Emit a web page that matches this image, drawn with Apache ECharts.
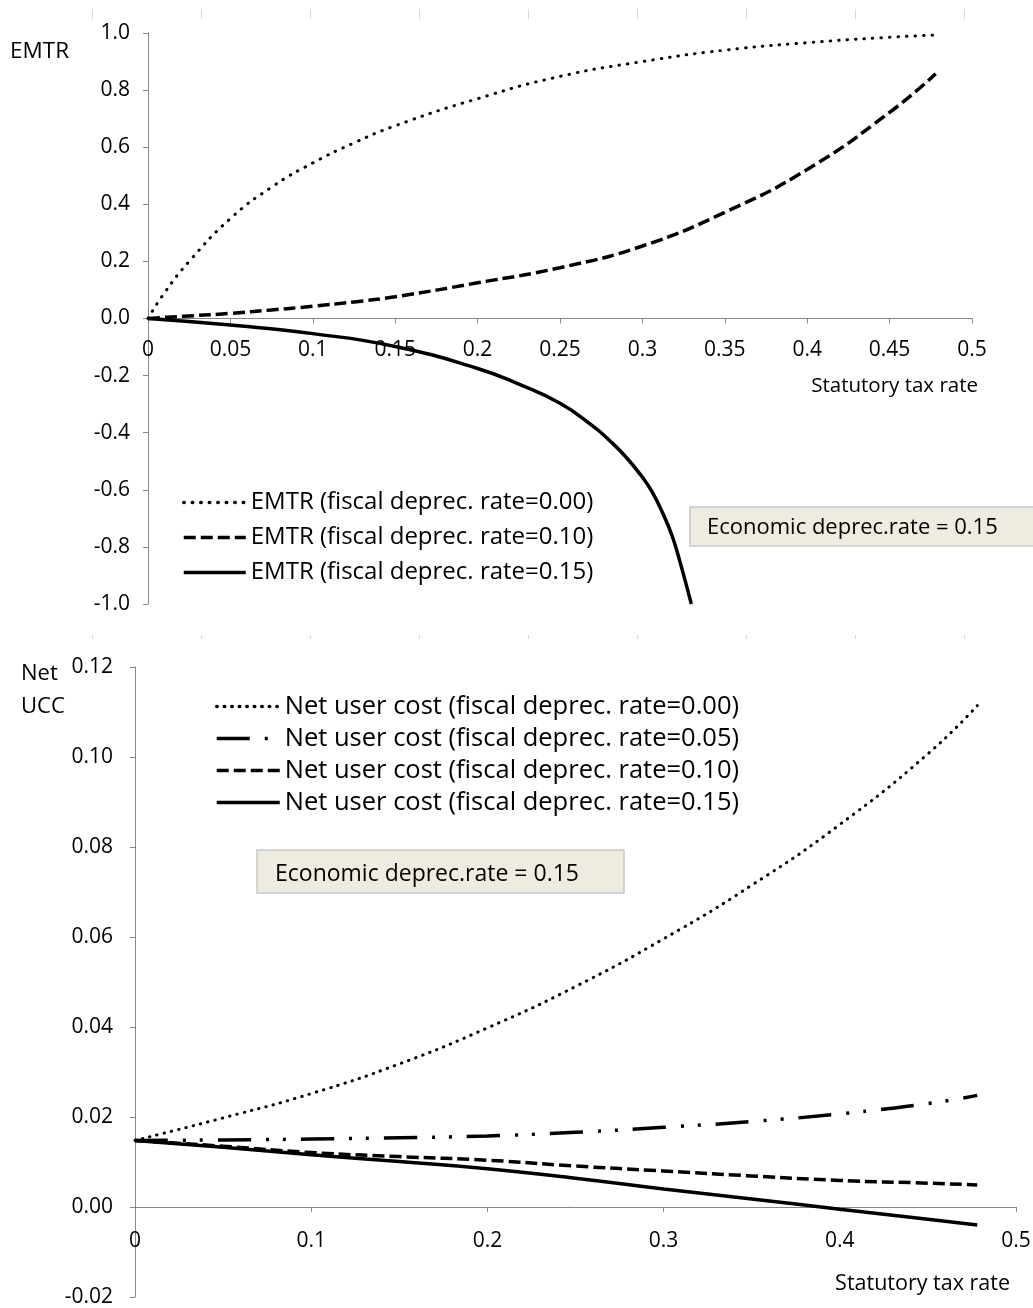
<!DOCTYPE html>
<html>
<head>
<meta charset="utf-8">
<title>EMTR and net user cost</title>
<script src="https://cdn.jsdelivr.net/npm/echarts@6/dist/echarts.min.js"></script>
<style>
    html, body { margin: 0; padding: 0; background: #fff; }
    #chart { width: 1033px; height: 1308px; }
</style>
</head>
<body>
<div id="chart"></div>
<script>
    // ---- values ----
    // top panel: EMTR vs statutory tax rate
    var taxRate = [0, 0.01, 0.025, 0.05, 0.075, 0.1, 0.125, 0.15, 0.2, 0.25, 0.3, 0.35, 0.4, 0.45, 0.478];
    var emtr000 = [0, 0.09, 0.2, 0.35, 0.46, 0.545, 0.615, 0.675, 0.77, 0.848, 0.9, 0.94, 0.966, 0.985, 0.993];
    var emtr010 = [0, 0.004, 0.009, 0.018, 0.03, 0.043, 0.058, 0.076, 0.125, 0.178, 0.254, 0.372, 0.522, 0.722, 0.857];
    // the 0.15 curve runs off the bottom of the axis, so it has its own x values
    var taxRateSteep = [0, 0.05, 0.1, 0.15, 0.2, 0.225, 0.25, 0.27, 0.28, 0.29, 0.3, 0.306, 0.3125, 0.318, 0.3226, 0.3297];
    var emtr015 = [0, -0.023, -0.053, -0.098, -0.175, -0.23, -0.297, -0.377, -0.427, -0.485, -0.556, -0.608, -0.684, -0.761, -0.848, -1.0];

    // bottom panel: net user cost of capital vs statutory tax rate
    var taxRateUcc = [0, 0.05, 0.1, 0.15, 0.2, 0.25, 0.3, 0.35, 0.4, 0.45, 0.478];
    var ucc000 = [0.0148, 0.0198, 0.0252, 0.0318, 0.0398, 0.0490, 0.0596, 0.0715, 0.0850, 0.1007, 0.1114];
    var ucc005 = [0.0148, 0.0149, 0.0151, 0.0154, 0.0158, 0.0166, 0.0177, 0.0190, 0.0207, 0.0230, 0.0248];
    var ucc010 = [0.0148, 0.0135, 0.0121, 0.0112, 0.0104, 0.0091, 0.0080, 0.0069, 0.0059, 0.0053, 0.0049];
    var ucc015 = [0.0148, 0.0133, 0.0116, 0.0101, 0.0085, 0.0064, 0.0040, 0.0018, -0.0005, -0.0027, -0.0040];

    // axis ticks: min, max, step
    var emtrTicks = [-1, 1, 0.2];
    var rateTicksTop = [0, 0.5, 0.05];
    var uccTicks = [-0.02, 0.12, 0.02];
    var rateTicksBottom = [0, 0.5, 0.1];

    var emtrNames = [
        'EMTR (fiscal deprec. rate=0.00)',
        'EMTR (fiscal deprec. rate=0.10)',
        'EMTR (fiscal deprec. rate=0.15)'
    ];
    var uccNames = [
        'Net user cost (fiscal deprec. rate=0.00)',
        'Net user cost (fiscal deprec. rate=0.05)',
        'Net user cost (fiscal deprec. rate=0.10)',
        'Net user cost (fiscal deprec. rate=0.15)'
    ];

    var FONT = '"Open Sans", sans-serif';
    var AXIS = '#868686';

    // grid boxes (px)
    var topGrid = { left: 148, top: 33, width: 824, height: 571 };
    var botGrid = { left: 135, top: 667, width: 881, height: 630 };

    function pairs(xs, ys) {
        return xs.map(function (x, i) { return [x, ys[i]]; });
    }

    // pixels from the bottom of a grid up to value 0
    function zeroLift(g, ticks) {
        return g.height * (0 - ticks[0]) / (ticks[1] - ticks[0]);
    }

    function valueAxis(grid, ticks, digits, margin, extra) {
        var ax = {
            type: 'value',
            gridIndex: grid,
            min: ticks[0],
            max: ticks[1],
            interval: ticks[2],
            axisLine: { show: true, onZero: false, lineStyle: { color: AXIS, width: 1 } },
            axisTick: { show: true, length: 5, lineStyle: { color: AXIS } },
            splitLine: { show: false },
            axisLabel: {
                color: '#000',
                fontSize: 21,
                fontFamily: FONT,
                margin: margin,
                formatter: function (v) { return digits == null ? String(+v.toFixed(2)) : v.toFixed(digits); }
            }
        };
        for (var k in extra) ax[k] = extra[k];
        return ax;
    }

    function line(name, x, y, xi, style) {
        return {
            name: name,
            type: 'line',
            xAxisIndex: xi,
            yAxisIndex: xi,
            data: pairs(x, y),
            symbol: 'none',
            smooth: 0.5,
            itemStyle: { color: '#000' },
            lineStyle: style,
            emphasis: { disabled: true }
        };
    }

    // stray gray tick marks from the neighbouring figure, drawn as label-less axes
    function ghostAxis(grid, len) {
        return {
            type: 'value', gridIndex: grid, min: 0, max: 8, interval: 1,
            axisLine: { show: false },
            axisTick: { show: true, inside: true, length: len, lineStyle: { color: '#d6d6d6' } },
            axisLabel: { show: false },
            splitLine: { show: false }
        };
    }

    function legendFor(names, left, top, width, gap, size) {
        return {
            data: names,
            orient: 'vertical',
            left: left,
            top: top,
            padding: 0,
            itemWidth: width,
            itemHeight: 14,
            itemGap: gap,
            selectedMode: false,
            itemStyle: { opacity: 0 },
            lineStyle: { width: 3.5 },
            textStyle: { fontSize: size, lineHeight: Math.round(size + 1), color: '#000', fontFamily: FONT }
        };
    }

    var myChart = echarts.init(document.getElementById('chart'));

    var option = {
        animation: false,
        textStyle: { fontFamily: FONT },
        grid: [
            { left: topGrid.left, top: topGrid.top, width: topGrid.width, height: topGrid.height, containLabel: false, outerBoundsMode: 'none' },
            { left: botGrid.left, top: botGrid.top, width: botGrid.width, height: botGrid.height, containLabel: false, outerBoundsMode: 'none' },
            { left: 92, top: 9, width: 872, height: 10, outerBoundsMode: 'none' },
            { left: 92, top: 635, width: 872, height: 4, outerBoundsMode: 'none' }
        ],
        xAxis: [
            valueAxis(0, rateTicksTop, null, 21, { offset: -zeroLift(topGrid, emtrTicks) }),
            valueAxis(1, rateTicksBottom, null, 24, { offset: -zeroLift(botGrid, uccTicks) }),
            ghostAxis(2, 10),
            ghostAxis(3, 4)
        ],
        yAxis: [
            valueAxis(0, emtrTicks, 1, 18, {}),
            valueAxis(1, uccTicks, 2, 22, {}),
            { type: 'value', gridIndex: 2, show: false },
            { type: 'value', gridIndex: 3, show: false }
        ],
        legend: [
            legendFor(emtrNames, 182, 490, 62, 10, 24),
            legendFor(uccNames, 215, 693, 63, 5, 25.5)
        ],
        graphic: [
            { type: 'text', left: 10, top: 40, style: { text: 'EMTR', font: '22.5px ' + FONT, fill: '#000' } },
            { type: 'text', right: 55, top: 376, style: { text: 'Statutory tax rate', font: '20.5px ' + FONT, fill: '#000' } },
            { type: 'rect', shape: { x: 690, y: 507, width: 360, height: 39 },
              style: { fill: '#eeece1', stroke: '#c8c8c8', lineWidth: 1.5 } },
            { type: 'text', x: 707, y: 528, style: { text: 'Economic deprec.rate = 0.15', font: '22px ' + FONT, fill: '#000', verticalAlign: 'middle' } },

            { type: 'text', left: 21, top: 663, style: { text: 'Net', font: '22px ' + FONT, fill: '#000' } },
            { type: 'text', left: 21, top: 696, style: { text: 'UCC', font: '22px ' + FONT, fill: '#000' } },
            { type: 'text', right: 23, top: 1273, style: { text: 'Statutory tax rate', font: '21.5px ' + FONT, fill: '#000' } },
            { type: 'rect', shape: { x: 257, y: 850, width: 367, height: 43 },
              style: { fill: '#eeece1', stroke: '#c8c8c8', lineWidth: 1.5 } },
            { type: 'text', x: 275, y: 874, style: { text: 'Economic deprec.rate = 0.15', font: '23px ' + FONT, fill: '#000', verticalAlign: 'middle' } }
        ],
        series: [
            line(emtrNames[0], taxRate, emtr000, 0, { color: '#000', width: 3, type: [0.5, 8], cap: 'round' }),
            line(emtrNames[1], taxRate, emtr010, 0, { color: '#000', width: 3.5, type: [12, 5] }),
            line(emtrNames[2], taxRateSteep, emtr015, 0, { color: '#000', width: 3.5, type: 'solid' }),

            line(uccNames[0], taxRateUcc, ucc000, 1, { color: '#000', width: 3, type: [0.5, 7], cap: 'round' }),
            line(uccNames[1], taxRateUcc, ucc005, 1, { color: '#000', width: 3.5, type: [33, 15, 3, 14, 3, 15] }),
            line(uccNames[2], taxRateUcc, ucc010, 1, { color: '#000', width: 3.5, type: [12, 5] }),
            line(uccNames[3], taxRateUcc, ucc015, 1, { color: '#000', width: 3.5, type: 'solid' }),

            // empty series so the ghost axes get built
            { type: 'line', xAxisIndex: 2, yAxisIndex: 2, data: [], silent: true },
            { type: 'line', xAxisIndex: 3, yAxisIndex: 3, data: [], silent: true }
        ]
    };

    myChart.setOption(option);
</script>
</body>
</html>
